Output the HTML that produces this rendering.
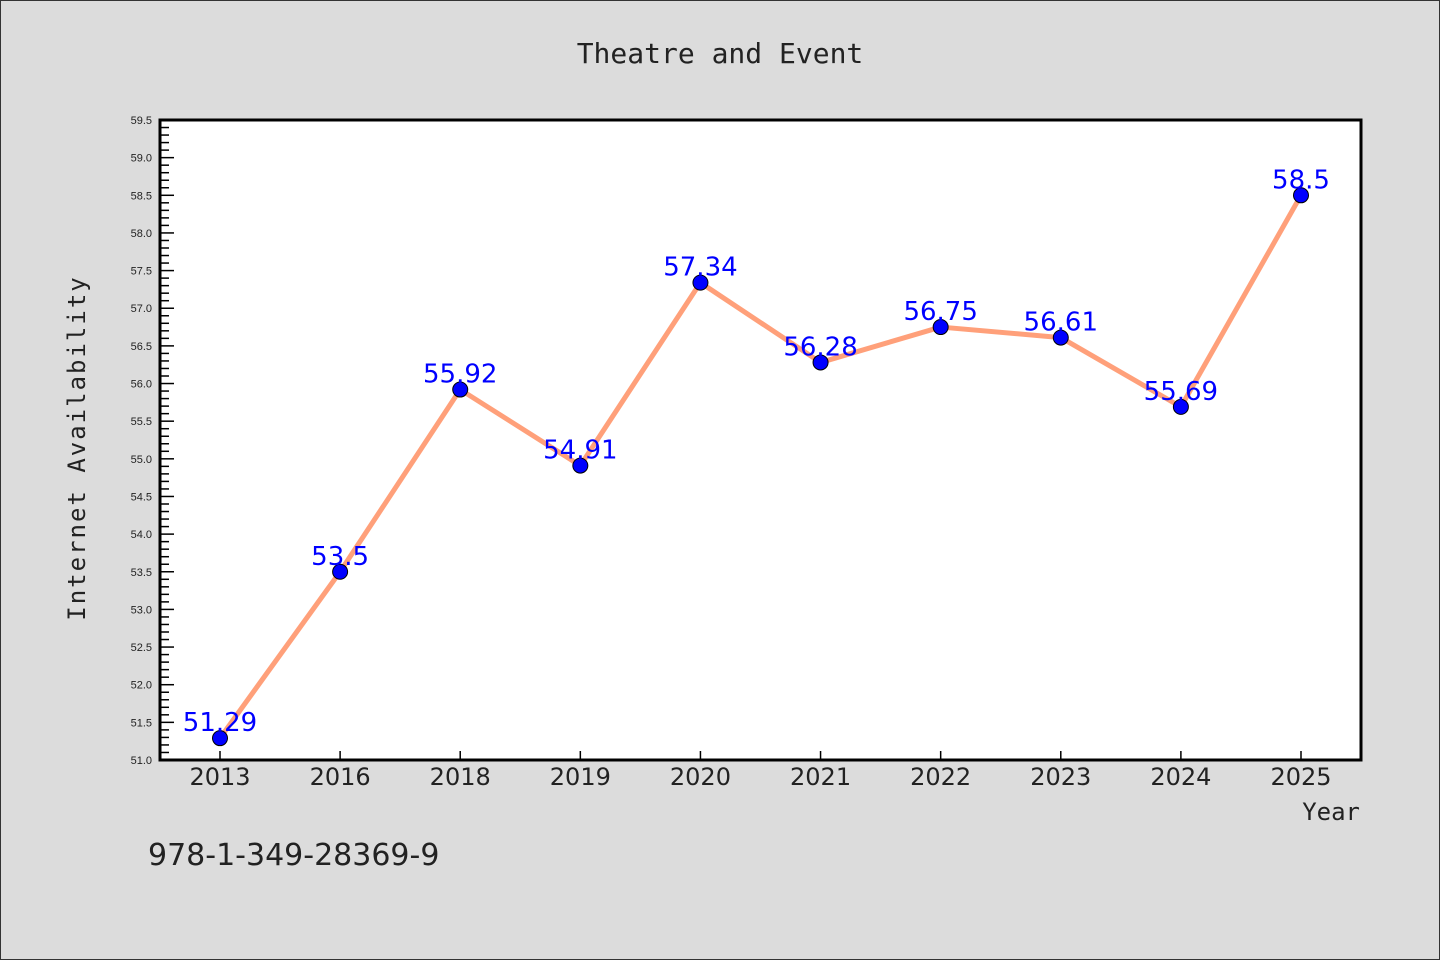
<!DOCTYPE html>
<html><head><meta charset="utf-8"><style>
html,body{margin:0;padding:0;background:#dcdcdc}
svg{display:block}
</style></head><body>
<svg id="chart" width="1440" height="960" xmlns="http://www.w3.org/2000/svg" font-family="Liberation Sans, DejaVu Sans, sans-serif">
<rect x="0.5" y="0.5" width="1439" height="959" fill="#dcdcdc" stroke="#333" stroke-width="1"/>
<rect x="160" y="120" width="1201" height="640" fill="#fff"/>
<text x="720" y="63" text-anchor="middle" font-family="DejaVu Sans Mono, Liberation Mono, monospace" font-size="28" fill="#222">Theatre and Event</text>
<text transform="translate(85,448) rotate(-90)" text-anchor="middle" font-family="DejaVu Sans Mono, Liberation Mono, monospace" font-size="24" fill="#222" letter-spacing="2">Internet Availability</text>
<text x="1360" y="820" text-anchor="end" font-family="DejaVu Sans Mono, Liberation Mono, monospace" font-size="24" fill="#222">Year</text>
<text x="148" y="865" font-size="30" fill="#222" font-family="DejaVu Sans, sans-serif">978-1-349-28369-9</text>
<g id="ticks"></g>
<g id="series"></g>
<rect x="160" y="120" width="1201" height="640" fill="none" stroke="#000" stroke-width="3"/>
</svg>
<script>
const categories = ["2013","2016","2018","2019","2020","2021","2022","2023","2024","2025"];
const values = [51.29,53.5,55.92,54.91,57.34,56.28,56.75,56.61,55.69,58.5];
const labels = ["51.29","53.5","55.92","54.91","57.34","56.28","56.75","56.61","55.69","58.5"];
const yMin = 51.0, yMax = 59.5;
const yTickStep = 0.5;

const NS = "http://www.w3.org/2000/svg";
const L = 160, R = 1361, T = 120, B = 760;
const xScale = i => L + 60 + i * (R - L - 120) / (categories.length - 1);
const yScale = v => B - (v - yMin) / (yMax - yMin) * (B - T);
function mk(tag, attrs, parent) {
  const e = document.createElementNS(NS, tag);
  for (const k in attrs) e.setAttribute(k, attrs[k]);
  parent.appendChild(e);
  return e;
}
const tg = document.getElementById('ticks');
const nMinor = Math.round((yMax - yMin) / 0.1);
for (let k = 0; k <= nMinor; k++) {
  const v = yMin + k * 0.1;
  const y = yScale(v);
  const major = k % 5 === 0;
  const t = mk('line', {x1: L, x2: L + (major ? 14 : 9), y1: y, y2: y, stroke: '#000', 'stroke-width': 1.5}, tg);
  
  
  if (major) {
    const tx = mk('text', {x: 152, y: y + 4, 'text-anchor': 'end', 'font-size': 11, fill: '#222'}, tg);
    tx.textContent = v.toFixed(1);
    
    
  }
}
categories.forEach((c, i) => {
  const x = xScale(i);
  const t = mk('line', {x1: x, x2: x, y1: B, y2: B - 9, stroke: '#000', 'stroke-width': 1.5}, tg);
  
  
  const tx = mk('text', {x: x, y: 785, 'text-anchor': 'middle', 'font-size': 24, fill: '#222', 'font-family': 'DejaVu Sans, sans-serif'}, tg);
  tx.textContent = c;
  
  
});
const sg = document.getElementById('series');
const pts = values.map((v, i) => xScale(i) + ',' + yScale(v)).join(' ');
const line = mk('polyline', {points: pts, fill: 'none', stroke: '#ffa07a', 'stroke-width': 5, 'stroke-linejoin': 'round'}, sg);


values.forEach((v, i) => {
  const p = mk('circle', {cx: xScale(i), cy: yScale(v), r: 7.5, fill: '#0000ff', stroke: '#000', 'stroke-width': 1}, sg);
  
  
});
values.forEach((v, i) => {
  const tx = mk('text', {x: xScale(i), y: yScale(v) - 7, 'text-anchor': 'middle', 'font-size': 26, fill: '#0000ff', 'font-family': 'DejaVu Sans, sans-serif'}, sg);
  tx.textContent = labels[i];
  
  
});
</script>
</body></html>
